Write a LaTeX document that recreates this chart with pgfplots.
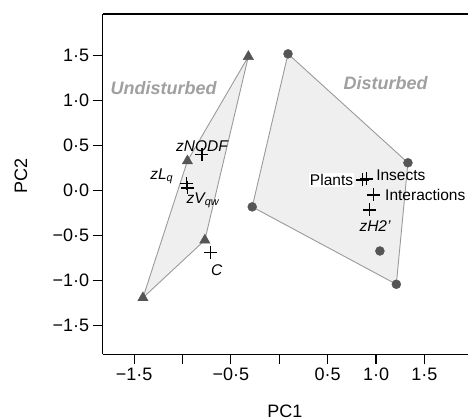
\documentclass[border=0pt]{standalone}
\usepackage{pgfplots}
\pgfplotsset{compat=1.18}
\usepackage{fontspec}
\setmainfont{Liberation Sans}
\definecolor{hullfill}{HTML}{EFEFEF}
\definecolor{hulledge}{HTML}{9A9A9A}
\definecolor{markc}{HTML}{555555}
\definecolor{grplab}{HTML}{A0A0A0}
\begin{document}
\begin{tikzpicture}
\begin{axis}[
  scale only axis,
  width=365.3bp, height=340.3bp,
  xmin=-1.826, xmax=1.951,
  ymin=-1.818, ymax=1.963,
  axis x line*=bottom, axis y line*=left,
  axis line style={black, line width=1.1pt},
  tick style={black, line width=1.1pt},
  tick align=outside,
  major tick length=10bp,
  xtick={-1.5,-1,-0.5,0,0.5,1,1.5},
  xticklabels={{−1·5},{},{−0·5},{},{0·5},{1·0},{1·5}},
  ytick={-1.5,-1,-0.5,0,0.5,1,1.5},
  yticklabels={{−1·5},{−1·0},{−0·5},{0·0},{0·5},{1·0},{1·5}},
  ticklabel style={font=\fontsize{18bp}{20bp}\selectfont},
  xlabel={PC1}, ylabel={PC2},
  label style={font=\fontsize{18bp}{20bp}\selectfont},
  every axis x label/.append style={at={(axis description cs:0.499,-0.1666)}, anchor=center},
  every axis y label/.append style={at={(axis description cs:-0.2237,0.524)}, anchor=center},
  clip=false,
]
% hulls
\addplot[draw=hulledge, fill=hullfill, line width=0.9pt] coordinates {
  (-0.32,1.49) (-0.95,0.33) (-1.41,-1.19) (-0.77,-0.55) } -- cycle;
\addplot[draw=hulledge, fill=hullfill, line width=0.9pt] coordinates {
  (0.09,1.52) (1.33,0.31) (1.21,-1.04) (-0.28,-0.18) } -- cycle;
% undisturbed sites
\addplot[only marks, mark=triangle*, mark size=6bp, color=markc] coordinates {
  (-0.32,1.49) (-0.95,0.33) (-1.41,-1.19) (-0.77,-0.55) };
% disturbed sites
\addplot[only marks, mark=*, mark size=4.5bp, color=markc] coordinates {
  (0.09,1.52) (1.33,0.31) (1.21,-1.04) (-0.28,-0.18) (1.04,-0.67) };
% variable vectors
\addplot[only marks, mark=+, mark size=6.5bp, black, mark options={line width=1.2pt}] coordinates {
  (-0.80,0.40) (-0.96,0.08) (-0.95,0.03) (-0.71,-0.685)
  (0.862,0.119) (0.903,0.130) (0.972,-0.048) (0.931,-0.214) };
% labels
\node[font=\fontsize{18bp}{20bp}\selectfont\bfseries\itshape, text=grplab] at (axis cs:-1.197,1.138) {Undisturbed};
\node[font=\fontsize{18bp}{20bp}\selectfont\bfseries\itshape, text=grplab] at (axis cs:1.10,1.19) {Disturbed};
\node[font=\fontsize{15.5bp}{17bp}\selectfont\itshape] at (axis cs:-0.80,0.50) {zNODF};
\node[font=\fontsize{15.5bp}{17bp}\selectfont\itshape, anchor=east, inner sep=1pt] at (axis cs:-1.085,0.16) {zL\textsubscript{q}};
\node[font=\fontsize{15.5bp}{17bp}\selectfont\itshape] at (axis cs:-0.79,-0.11) {zV\textsubscript{qw}};
\node[font=\fontsize{15.5bp}{17bp}\selectfont\itshape] at (axis cs:-0.647,-0.88) {C};
\node[font=\fontsize{15.5bp}{17bp}\selectfont, anchor=east, fill=white, inner sep=1pt] at (axis cs:0.775,0.119) {Plants};
\node[font=\fontsize{15.5bp}{17bp}\selectfont, anchor=west, inner sep=1pt] at (axis cs:0.99,0.174) {Insects};
\node[font=\fontsize{15.5bp}{17bp}\selectfont, anchor=west, inner sep=1pt] at (axis cs:1.083,-0.047) {Interactions};
\node[font=\fontsize{15.5bp}{17bp}\selectfont\itshape] at (axis cs:0.99,-0.39) {zH2'};
\draw[black, line width=1.1pt] (rel axis cs:0,1) -- (rel axis cs:1,1);
\end{axis}
\pgfresetboundingbox
\path (-102.7bp,-65.7bp) rectangle (365.3bp,354.3bp);
\end{tikzpicture}
\end{document}
